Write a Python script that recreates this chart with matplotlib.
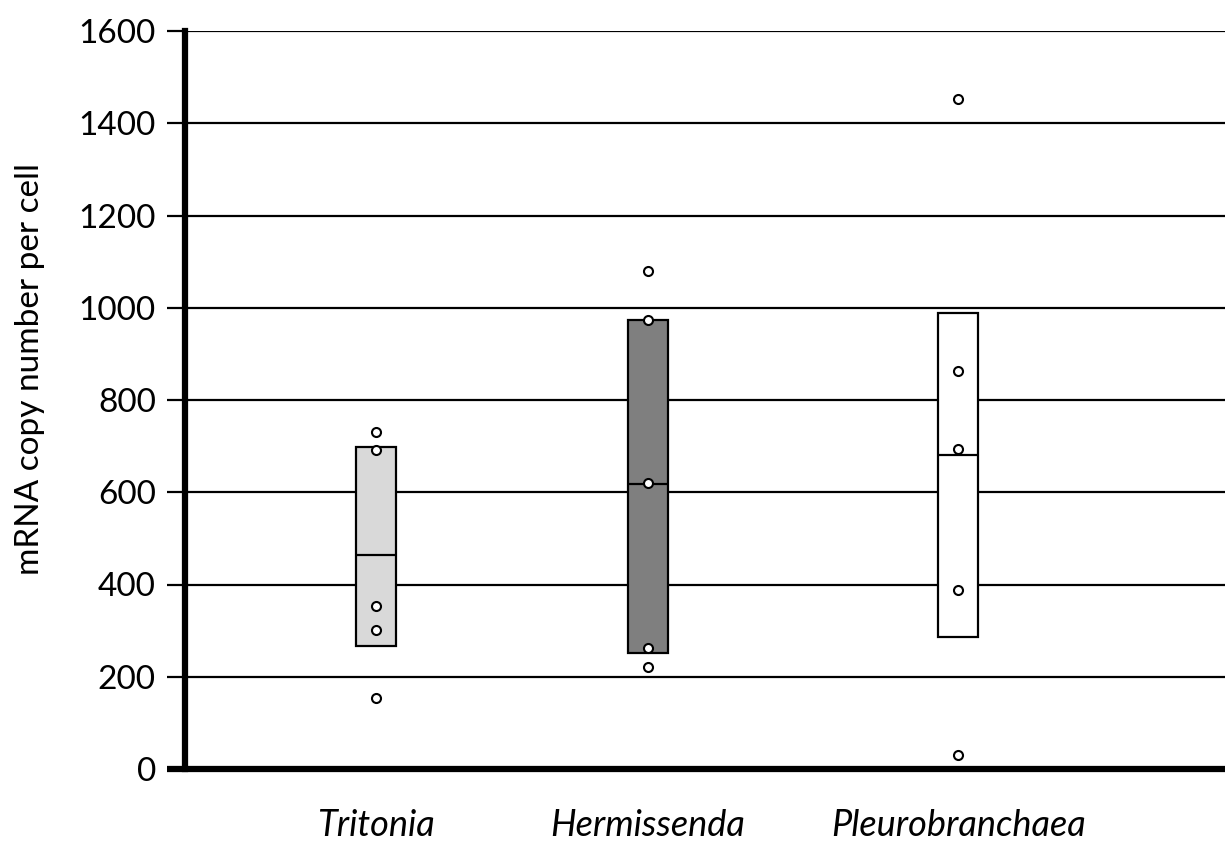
import matplotlib
matplotlib.use("Agg")
import matplotlib.pyplot as plt

# ---- data ----
species = ["Tritonia", "Hermissenda", "Pleurobranchaea"]
box_low = [267, 251, 286]
box_high = [698, 974, 989]
box_mid = [464, 617, 680]
points = [
    [730, 691, 353, 302, 155],
    [1079, 974, 619, 262, 221],
    [1452, 863, 693, 388, 30],
]
y_ticks = [0, 200, 400, 600, 800, 1000, 1200, 1400, 1600]
box_colors = ["#d9d9d9", "#7f7f7f", "#ffffff"]

# ---- layout ----
x_pos = [1.0, 2.0, 3.14]
box_w = 0.147

plt.rcParams["font.family"] = ["Lato", "DejaVu Sans"]

W, H = 1225, 843
fig = plt.figure(figsize=(W / 100, H / 100), dpi=100)
ax_left = 185 / W
ax_bottom = 1 - 769 / H
ax_top = 1 - 31 / H
ax = fig.add_axes([ax_left, ax_bottom, 1 - ax_left, ax_top - ax_bottom])
ax.set_xlim(0.298, 4.121)
ax.set_ylim(0, 1600)

# gridlines (extend left past the spine like ticks)
ax.set_yticks(y_ticks)
ax.tick_params(axis="y", length=13, width=1.6, direction="out", pad=8,
               labelsize=24, color="black")
ax.grid(axis="y", color="black", linewidth=1.6, zorder=0)
ax.set_axisbelow(True)

# boxes
for xp, lo, hi, md, col in zip(x_pos, box_low, box_high, box_mid, box_colors):
    ax.bar(xp, hi - lo, bottom=lo, width=box_w, color=col,
           edgecolor="black", linewidth=1.6, zorder=2)
    ax.plot([xp - box_w / 2, xp + box_w / 2], [md, md], color="black",
            linewidth=1.6, zorder=3, solid_capstyle="butt")

# points
for xp, pts in zip(x_pos, points):
    ax.plot([xp] * len(pts), pts, linestyle="none", marker="o",
            markersize=6.5, markerfacecolor="white", markeredgecolor="black",
            markeredgewidth=1.5, zorder=4)

# spines
for s in ["top", "right", "bottom"]:
    ax.spines[s].set_visible(False)
ax.spines["left"].set_linewidth(4.5)
ax.spines["left"].set_zorder(5)

# thick baseline extending left
trans = ax.get_yaxis_transform()
ax.plot([-18 / 1040, 1.0], [0, 0], transform=trans, color="black",
        linewidth=4.5, clip_on=False, zorder=6, solid_capstyle="butt")

# category labels
ax.set_xticks(x_pos)
ax.set_xticklabels(species, fontsize=26, style="italic")
ax.tick_params(axis="x", length=0, pad=29)

# y label
fig.text(30 / W, 1 - 369 / H, "mRNA copy number per cell", rotation=90,
         ha="center", va="center", fontsize=24)

fig.savefig("out.png", dpi=100, facecolor="white")
